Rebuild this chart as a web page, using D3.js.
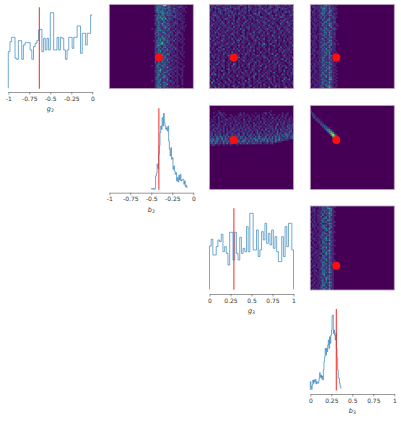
<!DOCTYPE html>
<html><head><meta charset="utf-8">
<script src="https://cdn.jsdelivr.net/npm/d3@7"></script>
<style>html,body{margin:0;padding:0;background:#fff}svg{display:block}text{font-family:"DejaVu Sans",sans-serif}</style>
</head><body>
<script>
// histogram counts (relative heights)
const g2Counts=[110,140,153,153,90,87,143,143,87,130,137,137,137,115,87,125,135,143,175,177,110,150,115,150,115,227,227,115,115,153,115,153,150,115,87,115,153,153,120,153,153,187,187,105,165,165,130,165,165,220];
const b2Counts=[2,2,0,2,0,2,40,48,76,62,105,130,170,190,180,215,190,228,200,190,180,185,175,190,145,120,100,125,90,95,60,70,55,45,50,25,35,22,42,28,45,25,28,30,30,15,25,8,12,5];
const g3Counts=[130,150,103,103,128,148,143,165,113,128,108,73,171,171,88,171,108,88,156,108,123,113,188,113,228,228,118,118,178,98,118,173,148,198,138,168,133,178,123,158,113,83,83,158,98,188,128,198,198,118];
const b3Counts=[25,10,2,15,30,20,30,25,32,18,25,22,20,25,35,52,38,45,35,42,30,60,85,100,125,105,125,115,135,150,125,160,140,165,180,222,225,170,180,165,150,170,125,95,60,35,35,20,10,5];
// parameter ranges of the histograms
const g2Range=[-1,0], b2Range=[-0.5,-0.07], g3Range=[0,1], b3Range=[0,0.37];
// true parameter values (red markers)
const truth={g2:-0.63,b2:-0.41,g3:0.29,b3:0.31};
const negTicks=[-1,-0.75,-0.5,-0.25,0], negLabels=["-1","-0.75","-0.5","-0.25","0"];
const posTicks=[0,0.25,0.5,0.75,1], posLabels=["0","0.25","0.5","0.75","1"];
// 2D histograms: rows top to bottom, digit = count level, starting at a column offset
const b2g2Offset=25;
const b2g2=[
"0013324782311211011000","0023442312421101221010","0014323342311320101100","0025324221331212010100","0013344314221311101010",
"0002315423231021120000","0032423313322121101100","0013352421211321011000","0014326261231011210100","0023223303212011011000",
"0012421431201131001100","0031325213211212011000","0012413322311201101010","0003321352121101011100","1012421231401021011000",
"0013352213211201100100","0023213421131011210000","0031421241212012011000","0014223213311121001000","0021315231301101101000",
"0012342522112021010100","0113251323211301101000","0023326214201011011000","0012346321212011000100","0014521322131101001000",
"0023231341211211011000","0021413214112031001000","0012351223211101101000","0032241321121101010100","0012513214301011011000",
"0013225231201211001000","0014321341121011100100","0012341323211101010000","0021513214112021001000","0031314231301101100000",
"0012431322111101011000","1014215231121011000100","0013321415201211101000","0012253121131101011000","0022461213211021001000",
"0013231342111101001000","0012513211301101101000","0012421341121011011000","0014213522101101010000","0023251214101011001000",
"1012341213131011001000","0012512431111201001000","0013241325101101001000","0014322241111011100000","0012451312111101001000"];
const b2g3=[
"11203121021210101132110210121411020121132101120210",
"02120101211031111200120311010120110231012211101112",
"11021310122210131201120120111213011210112013121011",
"31010121131120110112110301120110231011132010110203",
"10120221011213010111120101110311021120210110131210",
"01211031021102120310110100231201102310011102100112",
"01231101110311201012101131012200110112031102201131",
"11102201101120200110310102101032110112010132101110",
"02101110132101100301110120201101121011311100121101",
"10301120101110302110012010113021101301011021301012",
"11011103101201102101130110101201311011200112014110",
"01211021201103110110201103011110120102110031101211",
"13011101130110111203110110211011201310012011011300",
"10110120111210301101012201110301110121102110211011",
"21010301101112011031101201012010113101101300112102",
"01102011103110201101300101110131011021110112012110",
"11031101120101112002101101301210201100310120110301",
"10110211011013101100201130110101103101101110201011",
"02110111301110201013101011201012110104110102110101",
"10103101110210110110311012103010101110201300110121",
"30110101201103011120112001110201300110110110102110",
"01201013110101102301101100131011101201130110301101",
"11011201101110301102110110110201100102110101110120",
"10131011012103010110100301110211510130010200100111",
"20110102110110110301102011100103110101301101020103",
"11100130011200110102111031101110200100110030101110",
"01102011301010202010101110102100110301100211011201",
"10110311101101010301101120300101011101020110301110",
"30100110120103011010102101001030110201100103011020",
"01021010301110101102031101200101100113012001110100",
"02110201101310110100110101013102110100130101210110",
"10301101110102110301210010110110321011101100111104",
"10101201100130101011110103001010102010121013011100",
"11021011300101100201301011101200110301101100120110",
"01100301101020110110010120130110101102103011001201",
"20113011100200510101101300110102110110120110100130",
"01110102101103110102001101201130011101110302110101",
"01301110200101110300110201110100130110210110031010",
"11020110101301102010100103101020110101100210100102",
"10110103100110210110031011100300101120010110301101",
"01200100110200110103011020110101021101300100101021",
"03140110301101001100201100130110201100110003102011",
"10110201101020103011011101200103011001102010100110",
"20100103011101100112100110300110102110300101120010",
"01102010100300110101100300110200110310101100301300",
"10300100110120101001030110102011100110200103010101",
"05011020031011100301101200110310011020110100201011",
"01100301101200110011200110101010300102011101100102",
"20110110200101301101100130011020110100130200110100",
"11030201100100112001101100301010100500110100131010"];
const b2b3=[
"11101121342311010","01211132321311100","00111124521412110","10201213231341100","02101122411521010",
"01110134213211210","01101213221431100","10101130411213110","01110122312511200","10211103124311100",
"01010121341221300","01101113212431110","00211114131621011","10110111321241100","01110131242112310",
"01010122413231100","01100111331511100","10101131231321200","01110113412411100","01120111231351100",
"00110124113211100","11101112311541010","01100131214321100","01110112431151201","01010123121521100",
"10110131312401100","01100113151231100","01201113214221100","01011121341511010","11101112132301200",
"00200111421341100","01101123311511010","11010114121421100","00110213311131200","01011123142511010",
"10201112321341100","01110114213211100","01101131241621010","01100113123411100","10120121341231010",
"00110114121531100","01101123312411010","01010131251321100","11101112141531010","00110123211651100",
"01011112331321010","01101124113521100","10111113241311010","00110131134521010","01101124112631100"];
const g3b2Row=3;
const g3b2=[
"00000100000000000000000000000000000010000000000000",
"00100120100000000010100000010000120100000001001000",
"00001012010010000120101001000101010020100101011000",
"00110101100001010101010100102100100101001002010010",
"00100201010110101010100110010102010102011010110110",
"01010100112010110100201010110100201010110201010201",
"01100112010101021010110201001020110102010110201110",
"10010200111021010201110100201110201020102011201101",
"01201110120110112010112010120101020201013011101212",
"11010201101020111020201110201120101121020102013121",
"10112110201011201112011201110201021112030111201311",
"01201021102012111201120120112012030102112031122120",
"11120301201120120112011202012110201301203012111231",
"12011120102112101201302012013120120112013120231301",
"12031120213012121301202130201302113120213213143212",
"21213142131312103123120312031421130213141312314123",
"13214315132141231142132141421513241314131421132122",
"32514213142131513211431213154123415132142513111000",
"25134121512314123415321413123141215123141110000000",
"13142121314123112131214112312120112012000000000000",
"01200100100010001000000000000000000000000000000000",
"00000000000000000000000000000000000000000000000000"];
const g3b3Row=3;
const g3b3=[
"1000000000000000000","1100000000000000000","0210000000000000000","0120000000000000000","0021100000000000000",
"0002110000000000000","0000221000000000000","0000012100000000000","0000002210000000000","0000000232000000000",
"0000000023210000000","0000000003541000000","0000000000365100000","0000000000047610000","0000000000005951000",
"0000000000000685000","0000000000000056300","0000000000000002300","0000000000000000000"];
const b3g3=[
"11010213143111100","01100112215641000","01201113231351000","11101120412421100","00110123132631000",
"01102114112341100","10101130241511000","01101112431321000","01101124115431000","10201113241211100",
"01010130112531000","02110114231321100","01101123411241000","10101112351611000","00110120143211000",
"21010113201531100","01101112341321000","01011124113411000","11010131241231000","01201112351411000",
"10110113142521100","01001204311231000","01101112241611000","00110131312231100","21010114251411000",
"01100123131221000","11011102413621000","00120113242311000","01101130152421100","11011004231311000",
"00110213311521000","20101112341321000","01110131142211100","01011124311421000","10101113241231000",
"01201114312511000","11011123141311000","00100132231521000","01120113412321000","10101114231631000",
"00110123511211000","21011112312421000","00101131243311000","01101113152421000","11010124131211000",
"00201113241631000","01101114312321000","11011023411521000","00101132141321000","02110123512611000"];

const W=401,H=423;
const svg=d3.select("body").append("svg").attr("width",W).attr("height",H);
const defs=svg.append("defs");
defs.append("filter").attr("id","soft").attr("x","-5%").attr("y","-5%").attr("width","110%").attr("height","110%")
  .append("feGaussianBlur").attr("stdDeviation",0.45);
const colX=[[8.3,92.3],[109.3,193.3],[209.5,293.5],[310.3,394.3]];
const rowY=[[4.5,88.5],[105.5,189.5],[206,290]];
const color=d3.scaleSequential(d3.interpolateViridis).domain([0,9]);

function heat(col,row,rows,colOffset,rowOffset,xDomain,yDomain,tx,ty){
  const [x0,x1]=colX[col],[y0,y1]=rowY[row];
  const X=d3.scaleLinear().domain([0,50]).range([x0,x1]);
  const Y=d3.scaleLinear().domain([0,50]).range([y0,y1]);
  const g=svg.append("g");
  const clipId=`c${col}${row}`;
  defs.append("clipPath").attr("id",clipId).append("rect").attr("x",x0).attr("y",y0).attr("width",x1-x0).attr("height",y1-y0);
  const im=g.append("g").attr("clip-path",`url(#${clipId})`).append("g").attr("filter","url(#soft)");
  im.append("rect").attr("x",x0-2).attr("y",y0-2).attr("width",x1-x0+4).attr("height",y1-y0+4).attr("fill",color(0));
  const cells=[];
  rows.forEach((s,r)=>{for(let c=0;c<s.length;c++){const v=+s[c];if(v>0)cells.push({c:c+colOffset,r:r+rowOffset,v});}});
  im.selectAll("rect.c").data(cells).join("rect").attr("class","c")
    .attr("x",d=>X(d.c)).attr("y",d=>Y(d.r)).attr("width",X(1)-X(0)+0.15).attr("height",Y(1)-Y(0)+0.15)
    .attr("fill",d=>color(d.v));
  g.append("rect").attr("x",x0).attr("y",y0).attr("width",x1-x0).attr("height",y1-y0)
    .attr("fill","none").attr("stroke","#b9a3bf").attr("stroke-width",0.8);
  const tX=d3.scaleLinear().domain(xDomain).range([x0,x1]);
  const tY=d3.scaleLinear().domain(yDomain).range([y0,y1]);
  g.append("circle").attr("cx",tX(tx)).attr("cy",tY(ty)).attr("r",4).attr("fill","#fb0f0f");
}
const neg=[0,-1], pos=[1,0];
heat(1,0,b2g2,b2g2Offset,0,[-1,0],neg,truth.b2,truth.g2);
heat(2,0,b2g3,0,0,[0,1],neg,truth.g3,truth.g2);
heat(3,0,b2b3,0,0,[0,1],neg,truth.b3,truth.g2);
heat(2,1,g3b2,0,g3b2Row,[0,1],neg,truth.g3,truth.b2);
heat(3,1,g3b3,0,g3b3Row,[0,1],neg,truth.b3,truth.b2);
heat(3,2,b3g3,0,0,[0,1],pos,truth.b3,truth.g3);

function hist(col,axisY,base,counts,range,domain,ticks,labels,name,sub,tv,closeRight){
  const [x0,x1]=colX[col];
  const X=d3.scaleLinear().domain(domain).range([x0,x1]);
  const Y=d3.scaleLinear().domain([0,250]).range([base,base-83.3]);
  const w=(range[1]-range[0])/counts.length;
  const pts=[[range[0],0]];
  counts.forEach((v,i)=>{pts.push([range[0]+i*w,v]);pts.push([range[0]+(i+1)*w,v]);});
  if(closeRight)pts.push([range[1],0]);
  const line=d3.line().x(d=>X(d[0])).y(d=>Y(d[1]));
  const g=svg.append("g");
  g.append("path").attr("d",line(pts)).attr("fill","none").attr("stroke","#1f77b4").attr("stroke-width",0.9).attr("stroke-opacity",0.7);
  g.append("line").attr("x1",X(tv)).attr("x2",X(tv)).attr("y1",base-81).attr("y2",base+0.5)
    .attr("stroke","#f81c1c").attr("stroke-opacity",0.8).attr("stroke-width",1.2);
  const ax=g.append("g").attr("transform",`translate(0,${axisY})`)
    .call(d3.axisBottom(X).tickValues(ticks).tickFormat((d,i)=>labels[i]).tickSize(2.5).tickPadding(1.8).tickSizeOuter(0));
  ax.selectAll("path,line").attr("stroke","#555").attr("stroke-width",0.6);
  ax.selectAll("text").attr("font-size",6).attr("fill","#333").attr("font-family","DejaVu Sans");
  const t=g.append("text").attr("x",(x0+x1)/2).attr("y",axisY+19).attr("text-anchor","middle").attr("font-size",6.5).attr("fill","#333");
  t.append("tspan").attr("font-style","italic").text(name);
  t.append("tspan").attr("font-size",4.6).attr("dy",1.4).text(sub);
}
hist(0,92,88.3,g2Counts,g2Range,[-1,0],negTicks,negLabels,"g","2",truth.g2,false);
hist(1,192.7,189.3,b2Counts,b2Range,[-1,0],negTicks,negLabels,"b","2",truth.b2,false);
hist(2,294,289.3,g3Counts,g3Range,[0,1],posTicks,posLabels,"g","3",truth.g3,true);
hist(3,394,390,b3Counts,b3Range,[0,1],posTicks,posLabels,"b","3",truth.b3,false);
</script>
</body></html>
